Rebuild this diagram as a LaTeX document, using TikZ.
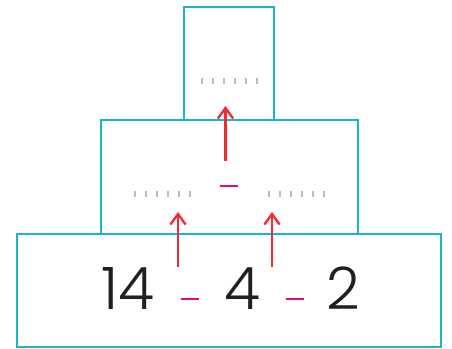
\documentclass[tikz,border=0pt]{standalone}
\usepackage{fontspec}
\newfontfamily\digitfont{Poppins}[UprightFont=* Light]
\usetikzlibrary{arrows.meta}
\definecolor{boxcyan}{HTML}{17B8C4}
\definecolor{arrowred}{HTML}{EE2A33}
\definecolor{signpink}{HTML}{E5097F}
\definecolor{slotgray}{HTML}{BDBDBD}
\definecolor{inkblack}{HTML}{231F20}
\begin{document}
\begin{tikzpicture}[
    x=0.03cm, y=-0.03cm,
    box/.style={draw=boxcyan, line width=2pt, inner sep=0pt},
    num/.style={font=\digitfont\fontsize{50}{50}\selectfont, text=inkblack, inner sep=0pt, anchor=base},
    up/.style={draw=arrowred, line width=2.4pt, -{Straight Barb[length=9pt, width=13pt, line width=2pt]}},
    minus/.style={draw=signpink, line width=2pt},
    slot/.style={draw=slotgray, line width=1.8pt}
]
\useasboundingbox (0,0) rectangle (452,349);
% the three rows
\node[box, minimum width=12.72cm, minimum height=3.39cm] (row1) at (229,290.5) {};
\node[box, minimum width=7.71cm, minimum height=3.42cm] (row2) at (229.5,177) {};
\node[box, minimum width=2.7cm, minimum height=3.39cm] (row3) at (229,63.5) {};
% numbers
\node[num] (n14) at (128,310) {14};
\node[num] (n4) at (242,310) {4};
\node[num] (n2) at (343,310) {2};
\draw[minus] (181,299) -- (199,299);
\draw[minus] (286,299) -- (304,299);
\draw[minus] (220,186) -- (238,186);
% empty slots
\foreach \x in {135,146,157,168,179,190} \draw[slot] (\x,191) -- (\x,197);
\foreach \x in {269,280,291,302,313,324} \draw[slot] (\x,191) -- (\x,197);
\foreach \x in {202,213,224,235,246,257} \draw[slot] (\x,78) -- (\x,84);
% arrows
\coordinate (a1) at (178,267);
\coordinate (b1) at (178,212);
\coordinate (a2) at (272,267);
\coordinate (b2) at (272,212);
\coordinate (a3) at (225.5,161);
\coordinate (b3) at (225.5,106);
\draw[up] (a1) -- (b1);
\draw[up] (a2) -- (b2);
\draw[up] (a3) -- (b3);
\end{tikzpicture}
\end{document}
